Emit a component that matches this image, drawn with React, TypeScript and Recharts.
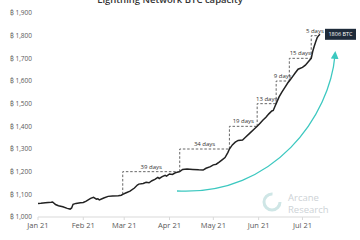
import React from 'react';
import { LineChart, Line, XAxis, YAxis, ReferenceDot, LabelList } from 'recharts';

// Days since 1 Jan 2021
const days = [0, 2, 5, 9, 10, 12, 14, 17, 20, 22, 23, 24, 26, 29, 31, 33, 36, 38, 40, 41, 42, 45, 48, 51, 55, 57, 58, 60, 63, 66, 68, 69, 72, 74, 76, 78, 80, 82, 83, 85, 87, 88, 90, 92, 94, 97, 99, 102, 106, 110, 113, 115, 118, 120, 122, 124, 126, 128, 130, 131, 133, 135, 137, 140, 142, 145, 148, 150, 152, 154, 156, 158, 160, 161, 162, 163, 165, 167, 169, 171, 172, 174, 176, 178, 181, 183, 185, 187, 188, 189, 190, 191, 192, 193];
const capacity = [1060, 1061, 1063, 1065, 1066, 1055, 1050, 1045, 1038, 1035, 1040, 1056, 1060, 1063, 1064, 1070, 1082, 1087, 1079, 1080, 1075, 1084, 1091, 1093, 1094, 1096, 1100, 1106, 1114, 1128, 1141, 1145, 1148, 1153, 1151, 1160, 1166, 1175, 1170, 1178, 1184, 1180, 1190, 1188, 1195, 1200, 1210, 1212, 1210, 1208, 1207, 1215, 1222, 1230, 1233, 1242, 1252, 1262, 1285, 1300, 1318, 1330, 1338, 1340, 1352, 1370, 1388, 1400, 1414, 1428, 1440, 1455, 1468, 1470, 1485, 1500, 1530, 1552, 1572, 1592, 1600, 1617, 1635, 1652, 1660, 1670, 1685, 1700, 1730, 1752, 1772, 1790, 1800, 1806];

// Step annotations: start day, duration, starting level (grows by 100)
const stepStarts = [58, 97, 131, 150, 163, 172, 187];
const stepDurations = [39, 34, 19, 13, 9, 15, 5];
const stepLevels = [1100, 1200, 1300, 1400, 1500, 1600, 1700];
const stepGain = 100;

const monthTicks = [0, 31, 59, 90, 120, 151, 181];
const monthLabels = ['Jan 21', 'Feb 21', 'Mar 21', 'Apr 21', 'May 21', 'Jun 21', 'Jul 21'];
const yTicks = [1000, 1100, 1200, 1300, 1400, 1500, 1600, 1700, 1800, 1900];

const title = 'Lightning Network BTC capacity';
const endLabel = '1806 BTC';

const mainData = days.map((d, i) => ({ d, v: capacity[i] }));
const steps = stepStarts.map((s, i) => ({
  label: `${stepDurations[i]} days`,
  mid: s + stepDurations[i] / 2,
  top: stepLevels[i] + stepGain,
  data: [
    { d: s, v: stepLevels[i] },
    { d: s, v: stepLevels[i] + stepGain },
    { d: s + stepDurations[i], v: stepLevels[i] + stepGain },
  ],
}));

const FONT = "'Open Sans', 'Noto Sans', 'DejaVu Sans', sans-serif";

const EndLabel = (props: any) => {
  const { x, y, index } = props;
  if (index !== mainData.length - 1) return null;
  return (
    <g>
      <rect x={x + 5} y={y - 5.5} width={31} height={11} fill="#1e2b3a" />
      <text x={x + 20.5} y={y + 2} textAnchor="middle" fontSize={5.5} fill="#ffffff" fontFamily={FONT}>
        {endLabel}
      </text>
    </g>
  );
};

const YTick = (props: any) => {
  const { x, y, payload } = props;
  return (
    <text x={x} y={y} dy={2.3} textAnchor="end" fontSize={6.5} fill="#595959" fontFamily={FONT}>
      {`₿\u00A0${payload.value.toLocaleString('en-US')}`}
    </text>
  );
};

export default function App() {
  return (
    <div style={{ position: 'absolute', left: 0, top: 0, width: 360, height: 240, overflow: 'hidden', background: '#fff' }}>
      <div
        style={{
          position: 'absolute', left: 0, top: -7, width: 340, textAlign: 'center',
          fontFamily: FONT, fontSize: 9.5, fontWeight: 600, color: '#333',
        }}
      >
        {title}
      </div>
      <LineChart width={360} height={240} data={mainData} margin={{ top: 13, right: 40, bottom: 0, left: 0 }}>
        <XAxis
          dataKey="d"
          type="number"
          domain={[0, 193]}
          ticks={monthTicks}
          tickFormatter={(v: number) => monthLabels[monthTicks.indexOf(v)]}
          height={23}
          axisLine={{ stroke: '#d9d9d9' }}
          tickLine={{ stroke: '#d9d9d9' }}
          tickSize={3}
          tickMargin={3}
          tick={{ fontSize: 7.5, fill: '#595959', fontFamily: FONT }}
          interval={0}
        />
        <YAxis
          type="number"
          domain={[1000, 1900]}
          ticks={yTicks}
          width={38}
          axisLine={false}
          tickLine={false}
          tickSize={0}
          tickMargin={6}
          tick={<YTick />}
          interval={0}
        />
        {steps.map((s, i) => (
          <Line
            key={`step${i}`}
            data={s.data}
            dataKey="v"
            type="linear"
            stroke="#555"
            strokeWidth={0.9}
            strokeDasharray="2.5 1.8"
            dot={false}
            activeDot={false}
            isAnimationActive={false}
          />
        ))}
        <Line
          dataKey="v"
          type="linear"
          stroke="#222"
          strokeWidth={1.5}
          dot={false}
          activeDot={false}
          isAnimationActive={false}
        >
          <LabelList dataKey="v" content={EndLabel} />
        </Line>
        {steps.map((s, i) => (
          <ReferenceDot
            key={`lbl${i}`}
            x={s.mid}
            y={s.top}
            r={0}
            fill="none"
            stroke="none"
            label={{ value: s.label, position: 'top', offset: 3, fontSize: 6, fill: '#333', fontFamily: FONT }}
          />
        ))}
      </LineChart>
      <svg
        width={360}
        height={240}
        style={{ position: 'absolute', left: 0, top: 0, pointerEvents: 'none' }}
      >
        <defs>
          <marker id="arrowHead" markerWidth="6" markerHeight="6" refX="3" refY="3" orient="auto">
            <path d="M0,0 L6,3 L0,6 z" fill="#3cc8c0" />
          </marker>
        </defs>
        <path
          d="M177,191 C275,196 330,115 335,55"
          fill="none"
          stroke="#3cc8c0"
          strokeWidth={1.3}
          markerEnd="url(#arrowHead)"
        />
        <circle cx={272} cy={202} r={8} fill="none" stroke="#cfe6e6" strokeWidth={3} strokeDasharray="38 12" />
        <text x={288} y={200.5} fontSize={9.5} fill="#cdd2d6" fontFamily={FONT}>Arcane</text>
        <text x={288} y={212.5} fontSize={9.5} fill="#cdd2d6" fontFamily={FONT}>Research</text>
      </svg>
    </div>
  );
}
